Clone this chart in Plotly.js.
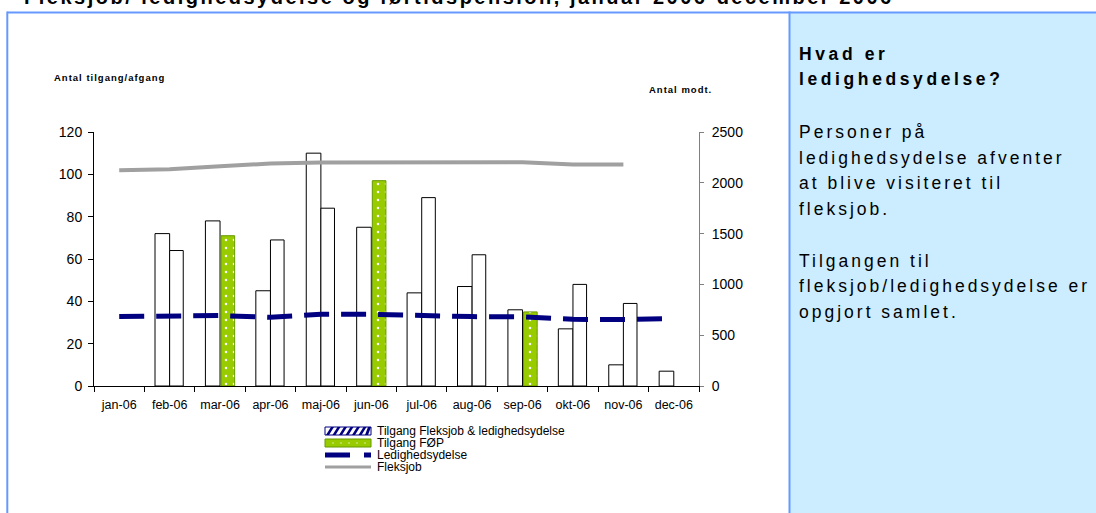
<!DOCTYPE html>
<html>
<head>
<meta charset="utf-8">
<script src="https://cdn.plot.ly/plotly-3.0.1.min.js"></script>
<style>
  html, body { margin: 0; padding: 0; background: #ffffff; }
  #chart { width: 1096px; height: 513px; }
</style>
</head>
<body>
<div id="chart"></div>
<script>
// ---- data ----
const months = ['jan-06','feb-06','mar-06','apr-06','maj-06','jun-06','jul-06','aug-06','sep-06','okt-06','nov-06','dec-06'];
const barsA = [null, 72, 78, 45, 110, 75, 44, 47, 36, 27, 10, 7];
const barsB = [null, 64, null, 69, 84, null, 89, 62, null, 48, 39, null];
const tilgangFOP = [null, null, 71, null, null, 97, null, null, 35, null, null, null];
const ledighedsydelse = [683, 690, 693, 676, 705, 705, 690, 683, 680, 656, 654, 663];
const fleksjob = [2123, 2133, 2163, 2189, 2199, 2199, 2202, 2202, 2202, 2179, 2179, null];
const leftTicks = [0, 20, 40, 60, 80, 100, 120];
const rightTicks = [0, 500, 1000, 1500, 2000, 2500];
const legendNames = ['Tilgang Fleksjob & ledighedsydelse', 'Tilgang FØP', 'Ledighedsydelse', 'Fleksjob'];
const chartTitle = 'Fleksjob/ ledighedsydelse og førtidspension, januar 2006-december 2006';
const leftAxisLabel = 'Antal tilgang/afgang';
const rightAxisLabel = 'Antal modt.';
const panelHead = ['Hvad er', 'ledighedsydelse?'];
const panelBody = ['Personer på', 'ledighedsydelse afventer', 'at blive visiteret til', 'fleksjob.', '', 'Tilgangen til', 'fleksjob/ledighedsydelse er', 'opgjort samlet.'];

// ---- layout geometry (pixels) ----
const FIG_W = 1096, FIG_H = 513;
const L = 94, R = 699, T = 132, B = 386;
const PW = R - L, PH = B - T;
const px = x => (x - L) / PW;
const py = y => (B - y) / PH;
const FONT = 'Liberation Sans, Arial, Helvetica, sans-serif';
const BORDER = '#6699ff';
const NAVY = '#000080', GREEN = '#99cc00', GREEN_EDGE = '#669900', GREY = '#a0a0a0';

const traces = [
  { type: 'bar', x: months, y: barsA, name: 'Tilgang', showlegend: false,
    offset: -0.29, width: 0.29,
    marker: { color: '#ffffff', line: { color: '#000000', width: 1 } } },
  { type: 'bar', x: months, y: barsB, name: 'Afgang', showlegend: false,
    offset: 0.0, width: 0.27,
    marker: { color: '#ffffff', line: { color: '#000000', width: 1 } } },
  { type: 'bar', x: months, y: tilgangFOP, name: legendNames[1], showlegend: false,
    offset: 0.02, width: 0.27,
    marker: { color: GREEN, line: { color: GREEN_EDGE, width: 1 },
      pattern: { shape: '.', fgcolor: '#ffffff', bgcolor: GREEN, size: 8, solidity: 0.08 } } },
  { type: 'scatter', mode: 'lines', x: months, y: ledighedsydelse, yaxis: 'y2', name: legendNames[2], showlegend: false,
    line: { color: NAVY, width: 5, dash: '25px,12px' } },
  { type: 'scatter', mode: 'lines', x: months, y: fleksjob, yaxis: 'y2', name: legendNames[3], showlegend: false,
    line: { color: GREY, width: 4 } }
];

const annotations = [];
annotations.push({ xref: 'paper', yref: 'paper', x: px(22), y: py(10.5), xanchor: 'left', yanchor: 'bottom',
  text: '<span style="letter-spacing:2.5px"><b>' + chartTitle + '</b></span>', showarrow: false,
  font: { family: FONT, size: 20, color: '#000' } });
annotations.push({ xref: 'paper', yref: 'paper', x: px(52), y: py(78), xanchor: 'left', yanchor: 'middle',
  text: '<span style="letter-spacing:1px"><b>' + leftAxisLabel + '</b></span>', showarrow: false,
  font: { family: FONT, size: 9.5, color: '#000' } });
annotations.push({ xref: 'paper', yref: 'paper', x: px(647), y: py(89.5), xanchor: 'left', yanchor: 'middle',
  text: '<span style="letter-spacing:1px"><b>' + rightAxisLabel + '</b></span>', showarrow: false,
  font: { family: FONT, size: 9.5, color: '#000' } });
const headY = [53.5, 79.5];
panelHead.forEach((t, i) => annotations.push({ xref: 'paper', yref: 'paper', x: px(797), y: py(headY[i]),
  xanchor: 'left', yanchor: 'middle', showarrow: false,
  text: '<span style="letter-spacing:3.6px"><b>' + t + '</b></span>', font: { family: FONT, size: 17.5, color: '#000' } }));
panelBody.forEach((t, i) => { if (!t) return; annotations.push({ xref: 'paper', yref: 'paper', x: px(797), y: py(132 + i * 25.7),
  xanchor: 'left', yanchor: 'middle', showarrow: false,
  text: '<span style="letter-spacing:3px">' + t + '</span>', font: { family: FONT, size: 17.5, color: '#000' } }); });

// legend text
const LEG_X0 = 325, LEG_X1 = 371, LEG_TX = 375, LEG_Y0 = 431, LEG_DY = 12;
legendNames.forEach((t, i) => annotations.push({ xref: 'paper', yref: 'paper', x: px(LEG_TX), y: py(LEG_Y0 + i * LEG_DY),
  xanchor: 'left', yanchor: 'middle', showarrow: false, text: t, font: { family: FONT, size: 12, color: '#000' } }));

const shapes = [
  { type: 'rect', xref: 'paper', yref: 'paper', x0: px(789.5), x1: px(FIG_W + 5), y0: py(FIG_H + 5), y1: py(12.5),
    fillcolor: '#ccecff', line: { width: 0 }, layer: 'below' },
  { type: 'line', xref: 'paper', yref: 'paper', x0: px(7.3), x1: px(FIG_W + 5), y0: py(12.5), y1: py(12.5),
    line: { color: BORDER, width: 2 } },
  { type: 'line', xref: 'paper', yref: 'paper', x0: px(7.3), x1: px(7.3), y0: py(11.5), y1: py(FIG_H + 5),
    line: { color: BORDER, width: 2 } },
  { type: 'line', xref: 'paper', yref: 'paper', x0: px(789.5), x1: px(789.5), y0: py(11.5), y1: py(FIG_H + 5),
    line: { color: BORDER, width: 2 } }
];

// legend symbols
(function () {
  const y1c = LEG_Y0, top = y1c - 4, bot = y1c + 4;
  shapes.push({ type: 'rect', xref: 'paper', yref: 'paper', x0: px(LEG_X0), x1: px(LEG_X1), y0: py(bot), y1: py(top),
    fillcolor: '#ffffff', line: { color: NAVY, width: 1 } });
  let d = '';
  for (let xb = LEG_X0 + 1; xb + 3 <= LEG_X1 - 1; xb += 6.5) {
    const xt = Math.min(xb + 5, LEG_X1 - 3);
    d += 'M' + px(xb) + ',' + py(bot) + 'L' + px(xb + 3) + ',' + py(bot) + 'L' + px(xt + 3) + ',' + py(top) + 'L' + px(xt) + ',' + py(top) + 'Z';
  }
  shapes.push({ type: 'path', xref: 'paper', yref: 'paper', path: d, fillcolor: NAVY, line: { width: 0 } });

  const y2c = LEG_Y0 + LEG_DY;
  shapes.push({ type: 'rect', xref: 'paper', yref: 'paper', x0: px(LEG_X0), x1: px(LEG_X1), y0: py(y2c + 4), y1: py(y2c - 4),
    fillcolor: GREEN, line: { color: GREEN_EDGE, width: 1 } });
  for (let xd = LEG_X0 + 8; xd < LEG_X1 - 4; xd += 8) {
    shapes.push({ type: 'rect', xref: 'paper', yref: 'paper', x0: px(xd - 0.6), x1: px(xd + 0.6), y0: py(y2c + 0.6), y1: py(y2c - 0.6),
      fillcolor: '#ffffff', line: { width: 0 } });
  }

  const y3c = LEG_Y0 + 2 * LEG_DY;
  shapes.push({ type: 'line', xref: 'paper', yref: 'paper', x0: px(LEG_X0), x1: px(LEG_X0 + 25), y0: py(y3c), y1: py(y3c),
    line: { color: NAVY, width: 5 } });
  shapes.push({ type: 'line', xref: 'paper', yref: 'paper', x0: px(LEG_X0 + 39), x1: px(LEG_X1), y0: py(y3c), y1: py(y3c),
    line: { color: NAVY, width: 5 } });

  const y4c = LEG_Y0 + 3 * LEG_DY;
  shapes.push({ type: 'line', xref: 'paper', yref: 'paper', x0: px(LEG_X0), x1: px(LEG_X1), y0: py(y4c), y1: py(y4c),
    line: { color: GREY, width: 3 } });
})();

const layout = {
  width: FIG_W, height: FIG_H,
  margin: { l: L, r: FIG_W - R, t: T, b: FIG_H - B, pad: 0, autoexpand: false },
  paper_bgcolor: '#ffffff', plot_bgcolor: 'rgba(0,0,0,0)',
  barmode: 'overlay',
  showlegend: false,
  font: { family: FONT, color: '#000' },
  xaxis: { type: 'category', range: [-0.5, 11.5], tickson: 'boundaries', ticks: 'outside', ticklen: 5,
    tickcolor: '#000', showline: true, linecolor: '#000', linewidth: 1, showgrid: false, zeroline: false,
    ticklabelstandoff: 7, automargin: false,
    tickfont: { family: FONT, size: 12.5, color: '#000' } },
  yaxis: { range: [0, 120], tickvals: leftTicks, ticks: 'outside', ticklen: 5, tickcolor: '#000',
    showline: true, linecolor: '#000', linewidth: 1, showgrid: false, zeroline: false,
    ticklabelstandoff: 3, automargin: false,
    tickfont: { family: FONT, size: 14, color: '#000' } },
  yaxis2: { overlaying: 'y', side: 'right', range: [0, 2500], tickvals: rightTicks, ticks: 'outside', ticklen: 4,
    tickcolor: '#808080', showline: true, linecolor: '#808080', linewidth: 1, showgrid: false, zeroline: false,
    ticklabelstandoff: 5, automargin: false,
    tickfont: { family: FONT, size: 14, color: '#000' } },
  annotations: annotations,
  shapes: shapes
};

Plotly.newPlot('chart', traces, layout, { displayModeBar: false, staticPlot: true });
</script>
</body>
</html>
